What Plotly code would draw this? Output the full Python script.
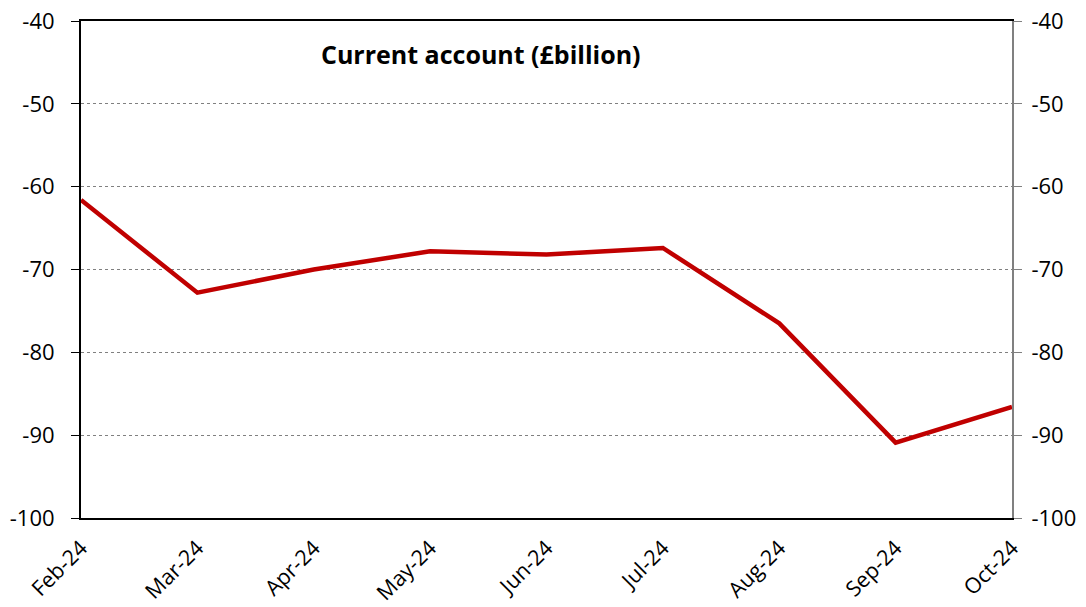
import plotly.graph_objects as go

months = ["Feb-24", "Mar-24", "Apr-24", "May-24", "Jun-24", "Jul-24", "Aug-24", "Sep-24", "Oct-24"]
current_account = [-61.6, -72.8, -70.0, -67.8, -68.2, -67.4, -76.5, -90.9, -86.6]
y_ticks = [-100, -90, -80, -70, -60, -50, -40]
y_tick_labels = [str(v) for v in y_ticks]
title_text = "Current account (£billion)"

FONT = "Open Sans, Liberation Sans, sans-serif"

fig = go.Figure()
fig.add_trace(go.Scatter(x=months, y=current_account, mode="lines",
                         line=dict(color="#C00000", width=4.5), showlegend=False))
fig.add_trace(go.Scatter(x=months, y=current_account, mode="lines", yaxis="y2",
                         line=dict(color="rgba(0,0,0,0)", width=0), showlegend=False,
                         hoverinfo="skip"))

fig.update_layout(
    width=1086, height=607,
    margin=dict(l=81, r=74, t=21, b=89),
    paper_bgcolor="white", plot_bgcolor="white",
    font=dict(family=FONT, size=21, color="black"),
    xaxis=dict(type="category", range=[0, 8], showline=True, linecolor="black", linewidth=2,
               mirror=True, showgrid=False, ticks="", tickangle=-45, automargin=False,
               tickfont=dict(size=21.5), zeroline=False, ticklabelstandoff=7,
               ticklabeloverflow="allow"),
    yaxis=dict(range=[-100, -40], tickvals=y_ticks, ticktext=y_tick_labels, showline=True,
               linecolor="black", linewidth=2, ticks="outside", ticklen=8, tickcolor="black",
               showgrid=True, gridcolor="#808080", griddash="dot", gridwidth=1,
               zeroline=False, tickfont=dict(size=22), automargin=False,
               ticklabelstandoff=12, ticklabeloverflow="allow"),
    yaxis2=dict(range=[-100, -40], tickvals=y_ticks, ticktext=y_tick_labels, overlaying="y",
                side="right", showline=True, linecolor="#808080", linewidth=2, ticks="outside",
                ticklen=8, tickcolor="#808080", showgrid=False, zeroline=False,
                tickfont=dict(size=22), automargin=False, ticklabelstandoff=5,
                ticklabeloverflow="allow"),
    annotations=[dict(text="<b>" + title_text + "</b>", x=0.4297, y=0.9336,
                      xref="paper", yref="paper", showarrow=False,
                      font=dict(family=FONT, size=25, color="black"),
                      xanchor="center", yanchor="middle")],
)

fig.write_html("out.html", config={"displayModeBar": False},
               post_script="document.body.style.margin='0';document.body.style.overflow='hidden';")
